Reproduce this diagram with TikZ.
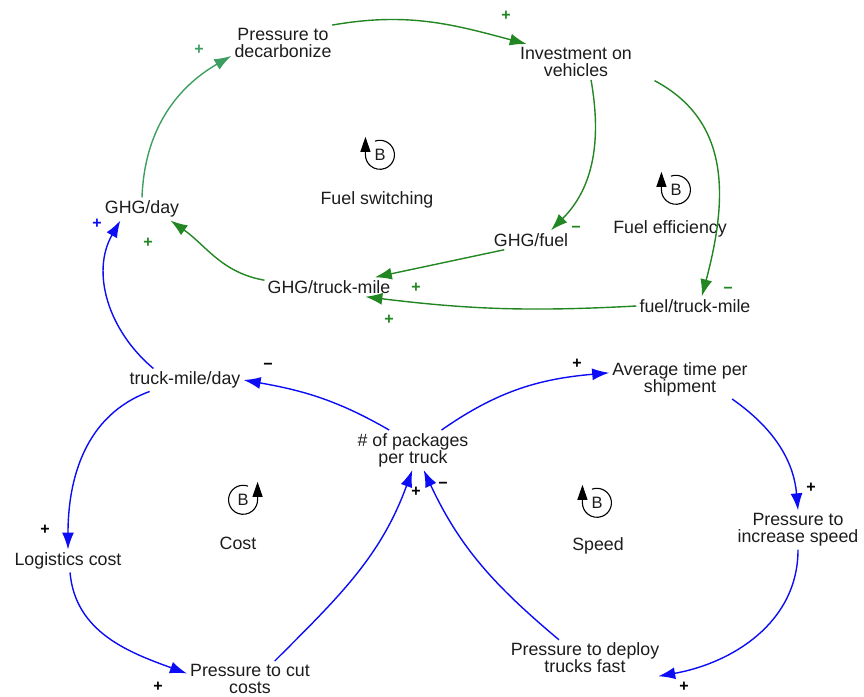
\documentclass[tikz,border=0pt]{standalone}
\usepackage{fontspec}
\setmainfont{Liberation Sans}
\usetikzlibrary{positioning, arrows.meta}

\definecolor{lnkblue}{RGB}{12,12,245}
\definecolor{lnkgreen}{RGB}{34,134,34}
\definecolor{lnklight}{RGB}{62,158,98}
\definecolor{vartext}{RGB}{28,28,30}

\begin{document}
\begin{tikzpicture}[x=1pt, y=1pt,
    var/.style = {align=center, text=vartext, inner sep=3pt,
      font=\fontsize{17.8}{17}\selectfont},
    lnk/.style = {line width=1.4pt, -{Latex[length=17pt, width=12pt]}},
    blnk/.style = {lnk, lnkblue},
    glnk/.style = {lnk, lnkgreen},
    pol/.style = {inner sep=0pt, font=\fontsize{16}{16}\selectfont\bfseries},
    loopsym/.style = {circle, minimum size=29pt, inner sep=0pt, text=vartext,
      font=\fontsize{16.5}{16}\selectfont},
    looparc/.style = {line width=1.1pt, -{Triangle[length=15pt, width=10pt]}},
  ]
\useasboundingbox (0,0) rectangle (864,-696);

% variables
\node[var] (dec)   at (283,-43)  {Pressure to\\decarbonize};
\node[var] (inv)   at (576,-62)  {Investment on\\vehicles};
\node[var] (gday)  at (142,-209) {GHG/day};
\node[var] (gfuel) at (531,-240) {GHG/fuel};
\node[var] (gtm)   at (329,-287) {GHG/truck-mile};
\node[var] (ftm)   at (695,-306) {fuel/truck-mile};
\node[var] (tmd)   at (185,-380) {truck-mile/day};
\node[var] (pkg)   at (413,-450) {\# of packages\\per truck};
\node[var] (avg)   at (680,-379) {Average time per\\shipment};
\node[var] (pis)   at (798,-530) {Pressure to\\increase speed};
\node[var] (log)   at (68,-561)  {Logistics cost};
\node[var] (pcc)   at (250,-679) {Pressure to cut\\costs};
\node[var] (pdt)   at (585,-658) {Pressure to deploy\\trucks fast};

% loop names
\node[var] (fs)    at (377,-200) {Fuel switching};
\node[var] (fe)    at (670,-229) {Fuel efficiency};
\node[var] (cost)  at (238,-543) {Cost};
\node[var] (speed) at (598,-546) {Speed};

% loop symbols
\node[loopsym] (fsB) at (380,-155) {B};
\node[loopsym] (feB) at (676,-190) {B};
\node[loopsym] (coB) at (243,-500) {B};
\node[loopsym] (spB) at (597,-503) {B};
\draw[looparc] (fsB.110) arc[start angle=110, end angle=-180, radius=14.5] -- ++(0,18);
\draw[looparc] (feB.110) arc[start angle=110, end angle=-180, radius=14.5] -- ++(0,18);
\draw[looparc] (spB.110) arc[start angle=110, end angle=-180, radius=14.5] -- ++(0,18);
\draw[looparc] (coB.70) arc[start angle=70, end angle=360, radius=14.5] -- ++(0,18);

% green links
\draw[lnk, lnklight] (gday.north) to[out=88, in=210] (dec.194);
\draw[glnk] (dec.20) to[out=10, in=165] (inv.160);
\draw[glnk] (inv.-50) to[out=-80, in=45] (gfuel.26);
\draw[glnk, shorten <=22pt] (inv.-8) to[out=-28, in=75, looseness=1.15] (ftm.55);
\draw[glnk] (gfuel.200) -- (gtm.12);
\draw[glnk] (ftm.west) to[bend left=5] (gtm.-15);
\draw[glnk] (gtm.174) to[out=170, in=-35] (gday.-22);

% blue links
\draw[blnk] (tmd.160) to[out=140, in=-120] (gday.208);
\draw[blnk] (pkg.140) to[out=150, in=-10] (tmd.east);
\draw[blnk] (pkg.35) to[out=35, in=185] (avg.175);
\draw[blnk] (avg.-21) to[out=-35, in=95] (pis.north);
\draw[blnk] (pis.south) to[out=-90, in=10] (pdt.-14);
\draw[blnk] (pdt.145) to[out=140, in=-65] (pkg.-62);
\draw[blnk] (pcc.36) to[out=45, in=-110] (pkg.-92);
\draw[blnk] (tmd.198) to[out=200, in=90] (log.north);
\draw[blnk] (log.-80) to[out=-85, in=160] (pcc.175);

% polarities
\node[pol, lnklight] (p1)  at (199,-50)  {+};
\node[pol, lnkgreen] (p2)  at (506,-16)  {+};
\node[pol, lnkgreen] (p3)  at (576,-229) {−};
\node[pol, lnkgreen] (p4)  at (728,-290) {−};
\node[pol, lnkgreen] (p5)  at (416,-288) {+};
\node[pol, lnkgreen] (p6)  at (389,-320) {+};
\node[pol, lnkgreen] (p7)  at (148,-243) {+};
\node[pol, lnkblue]  (p8)  at (97,-224)  {+};
\node[pol]           (p9)  at (268,-366) {−};
\node[pol]           (p10) at (577,-364) {+};
\node[pol]           (p11) at (811,-488) {+};
\node[pol]           (p12) at (684,-687) {+};
\node[pol]           (p13) at (443,-485) {−};
\node[pol]           (p14) at (416,-492) {+};
\node[pol]           (p15) at (45,-530)  {+};
\node[pol]           (p16) at (158,-687) {+};
\end{tikzpicture}
\end{document}
